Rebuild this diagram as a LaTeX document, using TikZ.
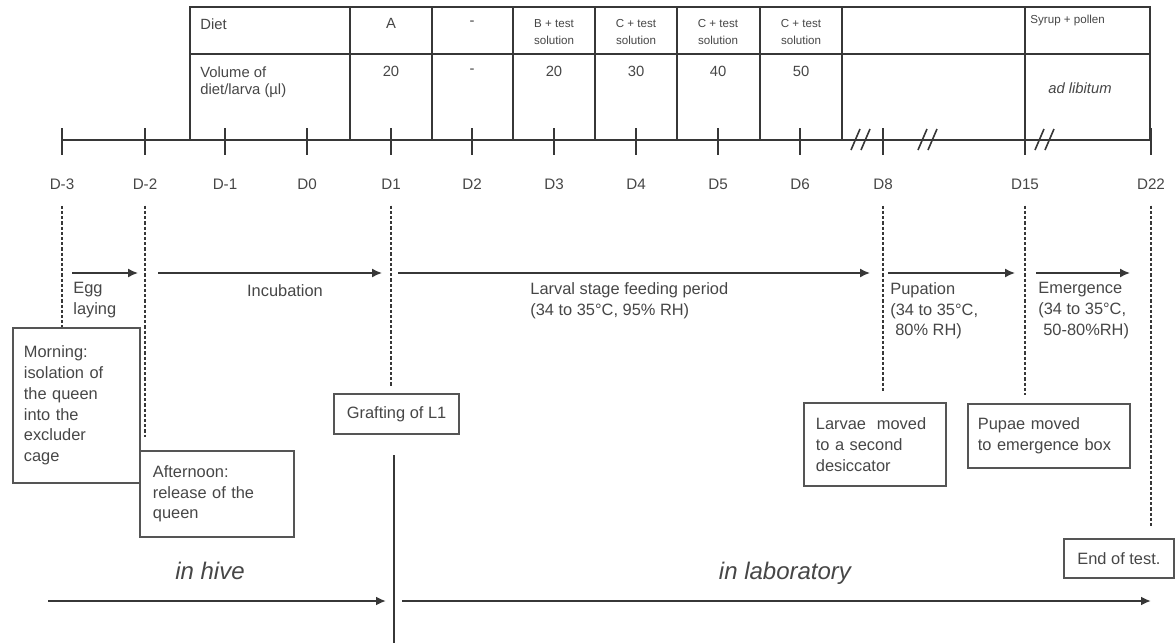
\documentclass[tikz,border=0pt]{standalone}
\usepackage{fontspec}
\setmainfont{Liberation Sans}
\usepackage{tikz}
\usetikzlibrary{arrows.meta}
\usepackage{xcolor}
\definecolor{linegray}{RGB}{55,55,55}
\definecolor{textgray}{RGB}{70,70,70}
\definecolor{boxgray}{RGB}{85,85,85}

\begin{document}
\begin{tikzpicture}[x=0.5pt,y=-0.5pt,
  every node/.style={text=textgray,inner sep=0pt},
  body/.style={font=\fontsize{8.2}{10.4}\selectfont},
  daylbl/.style={font=\fontsize{7.6}{9}\selectfont},
  tabtext/.style={font=\fontsize{7.4}{8.6}\selectfont},
  tabsmall/.style={font=\fontsize{5.8}{8.6}\selectfont,align=center},
  stage/.style={font=\fontsize{12}{14}\selectfont\itshape},
  notebox/.style={draw=boxgray,line width=0.9pt,anchor=north west,align=left,body,inner xsep=5.5pt},
  dashv/.style={draw=linegray,line width=0.6pt,dash pattern=on 1.6pt off 1pt},
  phase/.style={draw=linegray,line width=0.75pt,-{Latex[length=5pt,width=4.5pt]}},
  grid/.style={draw=linegray,line width=0.8pt}]

  \useasboundingbox (0,0) rectangle (1175,643);

  % diet table
  \draw[grid] (190,7) rectangle (1150,140);
  \draw[grid] (190,54) -- (1150,54);
  \foreach \x in {350,432,513,595,677,760,842,1025}
    \draw[grid] (\x,7) -- (\x,140);

  \node[tabtext,anchor=west] (diet) at (200,24) {Diet};
  \node[tabtext] (dietA) at (391,23) {A};
  \node[tabtext] (dietnone) at (472,23) {-};
  \foreach \x/\lt [count=\i] in {554/B,636/C,718/C,801/C}
    \node[tabsmall] (diet\i) at (\x,32) {\lt{} + test\\solution};
  \node[tabsmall,anchor=west] (dietsyrup) at (1030,20) {Syrup + pollen};

  \node[tabtext,anchor=north west,align=left] (vol) at (200,66) {Volume of\\diet/larva (µl)};
  \foreach \x/\v [count=\i] in {391/20,472/-,554/20,636/30,718/40,801/50}
    \node[tabtext] (vol\i) at (\x,71) {\v};
  \node[tabtext] (adlib) at (1080,88) {\itshape ad libitum};

  % time axis
  \foreach \nm/\x/\lbl in {dm3/62/D-3,dm2/145/D-2,dm1/225/D-1,d0/307/D0,d1/391/D1,d2/472/D2,d3/554/D3,d4/636/D4,d5/718/D5,d6/800/D6,d8/883/D8,d15/1025/D15,d22/1151/D22}{
    \draw[grid] (\x,128) -- (\x,155);
    \node[daylbl] (\nm) at (\x,184) {\lbl};
  }
  \draw[grid] (62,140) -- (850,140);
  \draw[grid] (871,140) -- (917,140);
  \draw[grid] (938,140) -- (1034,140);
  \draw[grid] (1054,140) -- (1151,140);
  \foreach \s in {851,861,918,928,1035,1045}
    \draw[grid] (\s,150) -- (\s+9,129);

  % phases
  \foreach \a/\b [count=\i] in {72/138,158/382,398/870,888/1015,1036/1130}{
    \coordinate (ph\i a) at (\a,273);
    \coordinate (ph\i b) at (\b,273);
    \draw[phase] (ph\i a) -- (ph\i b);
  }
  \node[body,anchor=north west,align=left] (egg) at (73,282) {Egg\\laying};
  \node[body] (incub) at (285,291) {Incubation};
  \node[body,anchor=north west,align=left] (larval) at (530,282) {Larval stage feeding period\\(34 to 35°C, 95\% RH)};
  \node[body,anchor=north west,align=left] (pupa) at (890,282) {Pupation\\(34 to 35°C,\\\hspace*{0.3em}80\% RH)};
  \node[body,anchor=north west,align=left] (emerg) at (1038,282) {Emergence\\(34 to 35°C,\\\hspace*{0.3em}50-80\%RH)};

  % events
  \node[notebox,minimum width=63.5pt,minimum height=77.5pt,text width=52.5pt] (morning) at (12,327)
    {Morning:\\isolation of\\the queen\\into the\\excluder\\cage};
  \node[notebox,inner xsep=6.5pt,minimum width=77pt,minimum height=43pt,text width=64pt] (afternoon) at (139,450)
    {Afternoon:\\release of the\\queen};
  \node[notebox,inner xsep=6.5pt,minimum height=20pt] (graft) at (333,393) {Grafting of L1};
  \node[notebox,inner xsep=6pt,minimum width=71pt,minimum height=41.5pt,text width=59pt] (larvae) at (803,402)
    {Larvae\ \ moved\\to a second\\desiccator};
  \node[notebox,inner xsep=5pt,minimum width=81pt,minimum height=32pt,text width=71pt] (pupae) at (967,403)
    {Pupae moved\\to emergence box};
  \node[notebox,align=center,minimum width=55pt,minimum height=19.5pt] (endtest) at (1063,538) {End of test.};

  \draw[dashv,shorten <=8pt] (dm3.south) -- (morning.north -| dm3);
  \coordinate (dm2foot) at (145,437);
  \draw[dashv,shorten <=8pt] (dm2.south) -- (dm2foot);
  \draw[dashv,shorten <=8pt,shorten >=3pt] (d1.south) -- (d1 |- graft.north);
  \draw[dashv,shorten <=8pt,shorten >=5pt] (d8.south) -- (d8 |- larvae.north);
  \draw[dashv,shorten <=8pt,shorten >=4pt] (d15.south) -- (d15 |- pupae.north);
  \draw[dashv,shorten <=8pt,shorten >=5pt] (d22.south) -- (d22 |- endtest.north);

  % hive / laboratory
  \coordinate (splitT) at (394,455);
  \coordinate (splitB) at (394,643);
  \draw[linegray,line width=0.6pt] (splitT) -- (splitB);
  \node[stage] (hive) at (210,571) {in hive};
  \node[stage] (lab) at (785,573) {in laboratory};
  \coordinate (hiveA) at (48,601);
  \coordinate (hiveB) at (386,601);
  \coordinate (labA) at (402,601);
  \coordinate (labB) at (1151,601);
  \draw[phase,line width=1pt] (hiveA) -- (hiveB);
  \draw[phase,line width=1pt] (labA) -- (labB);
\end{tikzpicture}
\end{document}
